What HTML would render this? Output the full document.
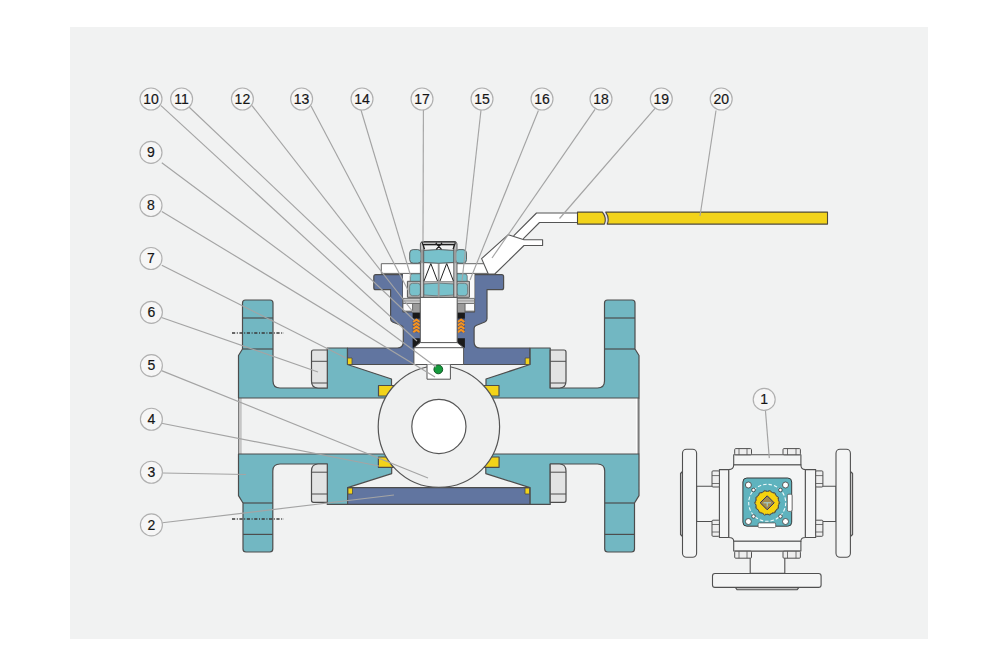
<!DOCTYPE html>
<html><head><meta charset="utf-8">
<style>
html,body{margin:0;padding:0;background:#fff;width:1000px;height:648px;overflow:hidden}
svg{display:block}
text{font-family:"Liberation Sans",sans-serif;}
</style></head><body>
<svg width="1000" height="648" viewBox="0 0 1000 648">
<rect x="0" y="0" width="1000" height="648" fill="#ffffff"/>
<rect x="70" y="27" width="858" height="612" fill="#f1f2f2"/>

<!-- ===== MAIN BODY ===== -->
<g stroke="#4d4d4d" stroke-width="1.2" stroke-linejoin="round">
<!-- bore end faces -->
<rect x="238.8" y="398" width="2" height="56" fill="#ffffff" stroke="none"/><line x1="238.8" y1="398" x2="238.8" y2="454" stroke="#555" stroke-width="1.1"/><line x1="240.9" y1="398" x2="240.9" y2="454" stroke="#8a8a8a" stroke-width="0.8"/>
<rect x="636.6" y="398" width="2.4" height="56" fill="#c2c2c2" stroke="none"/><line x1="638.9" y1="398" x2="638.9" y2="454" stroke="#555" stroke-width="1.1"/><line x1="636.4" y1="398" x2="636.4" y2="454" stroke="#ffffff" stroke-width="1"/>

<!-- upper left teal -->
<path fill="#72b7c2" d="M245.5,300 H270 Q273,300 273,303 V381 Q273,388 280,388 H327.3 V348 H347.5 V364.5 L391.5,379 V398 H238.5 V355.5 L242.5,349 V303 Q242.5,300 245.5,300 Z"/>
<line x1="242.5" y1="318" x2="273" y2="318"/>
<line x1="242.5" y1="349" x2="273" y2="349"/>
<!-- upper right teal (mirror about 438.75) -->
<path fill="#72b7c2" d="M632,300 H607.5 Q604.5,300 604.5,303 V381 Q604.5,388 597.5,388 H550.2 V348 H530 V364.5 L486,379 V398 H639 V355.5 L635,349 V303 Q635,300 632,300 Z"/>
<line x1="604.5" y1="318" x2="635" y2="318"/>
<line x1="604.5" y1="349" x2="635" y2="349"/>

<!-- lower left teal -->
<path fill="#72b7c2" d="M238.5,454 H391.7 V473.6 L347.6,487.6 V504.4 H327.3 V464 H280 Q272.8,464 272.8,471 V549 Q272.8,552 269.8,552 H246 Q243,552 243,549 V503 L238.5,495.6 Z"/>
<line x1="243" y1="503" x2="272.8" y2="503"/>
<line x1="243" y1="534.4" x2="272.8" y2="534.4"/>
<!-- lower right teal -->
<path fill="#72b7c2" d="M639,454 H485.8 V473.6 L529.9,487.6 V504.4 H550.2 V464 H597.5 Q604.7,464 604.7,471 V549 Q604.7,552 607.7,552 H631.5 Q634.5,552 634.5,549 V503 L639,495.6 Z"/>
<line x1="604.7" y1="503" x2="634.5" y2="503"/>
<line x1="604.7" y1="534.4" x2="634.5" y2="534.4"/>

<!-- nuts -->
<g fill="#e2e3e3">
<path d="M313.5,350 H327.3 V388 H318 Q311.5,388 311.5,381 V352 Q311.5,350 313.5,350 Z"/>
<path d="M564,350 H550.2 V388 H559.5 Q566,388 566,381 V352 Q566,350 564,350 Z"/>
<path d="M318,464 H327.3 V502.3 H313.5 Q311.5,502.3 311.5,500.3 V471 Q311.5,464 318,464 Z"/>
<path d="M559.5,464 H550.2 V502.3 H564 Q566,502.3 566,500.3 V471 Q566,464 559.5,464 Z"/>
</g>
<g fill="none" stroke-width="1">
<line x1="311.5" y1="361.3" x2="327.3" y2="361.3"/><line x1="311.5" y1="383" x2="327.3" y2="383"/>
<line x1="550.2" y1="361.3" x2="566" y2="361.3"/><line x1="550.2" y1="383" x2="566" y2="383"/>
<line x1="311.5" y1="472.2" x2="327.3" y2="472.2"/><line x1="311.5" y1="494" x2="327.3" y2="494"/>
<line x1="550.2" y1="472.2" x2="566" y2="472.2"/><line x1="550.2" y1="494" x2="566" y2="494"/>
</g>

<!-- lower blue bonnet bar -->
<rect x="347.6" y="487.6" width="182.3" height="16.8" fill="#6175a0"/>
<rect x="348" y="488" width="4.5" height="6" fill="#f2d31a" stroke-width="0.8"/>
<rect x="525" y="488" width="4.5" height="6" fill="#f2d31a" stroke-width="0.8"/>

<!-- upper blue bonnet -->
<path fill="#6175a0" d="M375.8,274.6 H403 V311.8 H474.5 V274.6 H501.6 Q503.6,274.6 503.6,276.6 V287.7 Q503.6,289.7 501.6,289.7 H487 V318.8 Q487,321 484.8,322 L476.1,325.5 Q474.1,326.3 474.1,328.5 V342 Q474.1,348 480.1,348 H529.7 V364.5 H347.5 V348 H397.3 Q403.3,348 403.3,342 V328.5 Q403.3,326.3 401.3,325.5 L392.6,322 Q390.6,321 390.6,318.8 V289.7 H375.8 Q373.8,289.7 373.8,287.7 V276.6 Q373.8,274.6 375.8,274.6 Z"/>
<rect x="347.5" y="358" width="4.5" height="6.5" fill="#f2d31a" stroke-width="0.8"/>
<rect x="525.2" y="358" width="4.5" height="6.5" fill="#f2d31a" stroke-width="0.8"/>



<!-- seats -->
<path fill="#f2d31a" d="M378.5,385.5 H394 L386.5,396 H378.5 Z"/>
<path fill="#f2d31a" d="M499,385.5 H483.5 L491,396 H499 Z"/>
<path fill="#f2d31a" d="M378.4,457 H386.5 L393.5,467.3 H378.4 Z"/>
<path fill="#f2d31a" d="M499.1,457 H491 L484,467.3 H499.1 Z"/>

<!-- ball -->
<circle cx="438.9" cy="426.7" r="60.7" fill="#eff0f0" stroke="#555"/>
<circle cx="438.9" cy="426.5" r="27.1" fill="#ffffff" stroke="#555"/>

<!-- ===== STEM ASSEMBLY ===== -->
<rect x="403" y="273.4" width="71.5" height="30" fill="#fbfbfb" stroke="none"/>
<!-- washer -->
<rect x="403" y="298.4" width="71.5" height="5.1" fill="#c9caca" stroke="#6a6a6a" stroke-width="0.9"/>
<line x1="403" y1="300.9" x2="474.5" y2="300.9" stroke="#8a8a8a" stroke-width="0.7"/>
<rect x="403" y="303.5" width="9.6" height="7.6" fill="#fbfbfb" stroke="#666" stroke-width="0.8"/>
<rect x="464.9" y="303.5" width="9.6" height="7.6" fill="#fbfbfb" stroke="#666" stroke-width="0.8"/>
<rect x="412.6" y="303.5" width="7.7" height="9.3" fill="#9b9b9b" stroke="#666" stroke-width="0.8"/>
<rect x="457.2" y="303.5" width="7.7" height="9.3" fill="#9b9b9b" stroke="#666" stroke-width="0.8"/>
<rect x="412.6" y="312.8" width="7.7" height="6" fill="#1a1a1a" stroke="none"/>
<rect x="457.2" y="312.8" width="7.7" height="6" fill="#1a1a1a" stroke="none"/>
<rect x="412.6" y="318.8" width="7.7" height="13.6" fill="#4a5680" stroke="none"/>
<rect x="457.2" y="318.8" width="7.7" height="13.6" fill="#4a5680" stroke="none"/>
<g fill="none" stroke="#f7941d" stroke-width="2.1" stroke-linecap="butt">
<path d="M413.2,322 L416.5,319.6 L419.8,322"/><path d="M413.2,325.4 L416.5,323 L419.8,325.4"/><path d="M413.2,328.8 L416.5,326.4 L419.8,328.8"/><path d="M413.2,332.2 L416.5,329.8 L419.8,332.2"/>
<path d="M457.8,322 L461.1,319.6 L464.4,322"/><path d="M457.8,325.4 L461.1,323 L464.4,325.4"/><path d="M457.8,328.8 L461.1,326.4 L464.4,328.8"/><path d="M457.8,332.2 L461.1,329.8 L464.4,332.2"/>
</g>
<polygon points="412.6,338.3 420.3,338.3 420.3,342.6 413.9,347.7 412.6,347.7" fill="#1a1a1a" stroke="none"/>
<polygon points="464.9,338.3 457.2,338.3 457.2,342.6 463.6,347.7 464.9,347.7" fill="#1a1a1a" stroke="none"/>
<!-- stem shaft -->
<rect x="420.3" y="297.3" width="36.9" height="46" fill="#ffffff" stroke="#555" stroke-width="1"/>
<polygon points="413.9,347.7 420.3,342.6 457.2,342.6 463.6,347.7 463.6,364.5 413.9,364.5" fill="#ffffff" stroke="#555" stroke-width="1"/>
<line x1="413.9" y1="347.7" x2="463.6" y2="347.7" stroke="#555" stroke-width="1"/>
<path d="M427,364.5 V379.2 H450.4 V364.5" fill="#ffffff" stroke="#555" stroke-width="1"/>
<circle cx="438.3" cy="369.4" r="4.4" fill="#159a3c" stroke="#0b4d1e" stroke-width="0.9"/>

<!-- handle plate -->
<rect x="381.3" y="263.7" width="106.5" height="9.7" fill="#ffffff" stroke="#666" stroke-width="1"/>
<!-- lower nut -->
<rect x="407.4" y="281.3" width="62" height="16" fill="#b9baba" stroke="#555" stroke-width="1"/>
<rect x="409.6" y="283.3" width="11" height="12.4" rx="3" fill="#78c1cb" stroke="#666" stroke-width="0.7"/>
<rect x="456.6" y="283.3" width="11" height="12.4" rx="3" fill="#78c1cb" stroke="#666" stroke-width="0.7"/>
<path d="M423.7,284 Q438.7,282.2 453.8,284 V295 Q438.7,296.8 423.7,295 Z" fill="#78c1cb" stroke="#666" stroke-width="0.7"/>
<!-- teal pieces below handle plate -->
<path d="M420.4,273.8 H412.7 Q410.2,273.8 410.2,276.3 V281.3 H420.4" fill="#78c1cb" stroke="#666" stroke-width="0.8"/>
<path d="M457,273.8 H464.7 Q467.2,273.8 467.2,276.3 V281.3 H457" fill="#78c1cb" stroke="#666" stroke-width="0.8"/>
<!-- stem top gray bars -->
<rect x="423.7" y="263.2" width="30.1" height="18.1" fill="#ffffff" stroke="none"/>
<path d="M420.4,297.3 V244 Q420.4,242 422.4,242 H455 Q457,242 457,244 V297.3 H453.8 V245 H423.7 V297.3 Z" fill="#c4c4c4" stroke="#555" stroke-width="0.9"/>
<line x1="438.7" y1="263.2" x2="438.7" y2="297.3" stroke="#9a9a9a" stroke-width="1.8"/>
<!-- W lines -->
<path d="M424,281 L430.8,263.5 L437.5,281 M440,281 L446.7,263.5 L453.4,281" fill="none" stroke="#222" stroke-width="1"/>
<!-- top nut -->
<rect x="409.7" y="249.6" width="11.5" height="13.6" rx="3.5" fill="#78c1cb" stroke="#555" stroke-width="0.9"/>
<rect x="455.5" y="249.6" width="11" height="13.6" rx="3.5" fill="#78c1cb" stroke="#555" stroke-width="0.9"/>
<path d="M423.7,250.4 Q438.7,248.6 453.8,250.4 V262.4 Q438.7,264.2 423.7,262.4 Z" fill="#78c1cb" stroke="#555" stroke-width="0.9"/>
<line x1="422" y1="249.6" x2="422" y2="263.2" stroke="#999" stroke-width="2.4"/>
<line x1="455.3" y1="249.6" x2="455.3" y2="263.2" stroke="#999" stroke-width="2.4"/>
<rect x="423" y="242.4" width="31.5" height="1.6" fill="#f4f4f4" stroke="none"/><path d="M421.5,242.3 Q422,241.8 423,241.8 H454.5 Q455.7,241.8 456,242.3 M422.5,244.4 H455 M422.3,243 L424.6,249.3 M455.3,243 L453,249.3 M435.8,243 L441.5,249.4 M442,243 L436.2,249.4" fill="none" stroke="#1e1e1e" stroke-width="1.15"/>

<!-- ===== HANDLE ===== -->
<path d="M513,236.8 L536.5,213 H578 V222.5 H539.5 L523.5,239.5 Z" fill="#ffffff" stroke="none"/><path d="M513.6,235.8 L536.5,213 H578 M578,222.5 H539.5 L523.2,238.8" fill="none" stroke="#555" stroke-width="1.1"/>
<path d="M481.6,258.6 L508.3,234.7 L524,239.8 H542.6 V245.5 H524 L494.8,274 H488.3 Z" fill="#ffffff" stroke="#555" stroke-width="1.1"/>
<path d="M605.7,212.1 Q609.5,217 607.2,224.1 L604.4,224.1 Q607,218 602.4,212.1 Z" fill="#e4e0f4" stroke="none"/>
<path d="M577.5,212.1 H602.4 Q607,218 604.4,224.1 H577.5 Z" fill="#f2d31a" stroke="#4f4a3a" stroke-width="1.1"/>
<path d="M827.5,212.1 H605.7 Q609.8,218 607.2,224.1 H827.5 Z" fill="#f2d31a" stroke="#4f4a3a" stroke-width="1.1"/>
</g>


<!-- ===== DASH-DOT ===== -->
<g stroke="#3a3a3a" stroke-width="1.3" stroke-dasharray="3.2,1.6,1,1.6">
<line x1="232" y1="333" x2="284" y2="333"/>
<line x1="232" y1="519" x2="284" y2="519"/>
</g>
<!-- ===== RIGHT VIEW ===== -->
<g stroke="#505050" stroke-width="1.1" fill="#f4f5f5" stroke-linejoin="round">
<path d="M682.5,471.5 L680.5,473.5 V534.5 L682.5,536.5 Z" fill="#c8c8c8"/>
<path d="M850.4,471.5 L852.6,473.5 V534.5 L850.4,536.5 Z" fill="#c8c8c8"/>
<path d="M735.4,587.4 L737,589.8 H797 L799,587.4 Z" fill="#c0c0c0"/>
<rect x="696.6" y="486.3" width="23" height="35.2"/>
<rect x="815.5" y="486.3" width="20.5" height="35.2"/>
<rect x="750.2" y="551" width="34.6" height="22.3"/>
<rect x="682.5" y="449.3" width="14.1" height="108" rx="4"/>
<rect x="836" y="449.3" width="14.4" height="108" rx="4"/>
<rect x="712.5" y="573.5" width="108.6" height="13.9" rx="2.5"/>
<rect x="719.4" y="469.6" width="9.4" height="67.9"/>
<rect x="805.3" y="469.6" width="10.4" height="67.9"/>
<path d="M733.7,464.7 H800.9 Q800.9,469.6 805.3,469.6 V537.5 Q800.9,537.5 800.9,541.2 H733.7 Q733.7,537.5 728.8,537.5 V469.6 Q733.7,469.6 733.7,464.7 Z"/>
<rect x="733.7" y="454.8" width="67.2" height="9.9"/>
<rect x="733.7" y="541.2" width="67.2" height="9.8"/>
<g fill="#eeeeee" stroke-width="1">
<rect x="734.7" y="448.6" width="16.8" height="6.2" rx="1"/><rect x="783" y="448.6" width="17.4" height="6.2" rx="1"/>
<rect x="734.7" y="551.2" width="16.8" height="7" rx="1"/><rect x="783" y="551.2" width="17.4" height="7" rx="1"/>
<rect x="712" y="470.9" width="7.4" height="16.1" rx="1"/><rect x="712" y="520.2" width="7.4" height="16.1" rx="1"/>
<rect x="815.7" y="470.9" width="7.2" height="16.1" rx="1"/><rect x="815.7" y="520.2" width="7.2" height="16.1" rx="1"/>
</g>
<g fill="none" stroke-width="0.8">
<line x1="739" y1="448.6" x2="739" y2="454.8"/><line x1="747" y1="448.6" x2="747" y2="454.8"/>
<line x1="787.5" y1="448.6" x2="787.5" y2="454.8"/><line x1="796" y1="448.6" x2="796" y2="454.8"/>
<line x1="739" y1="551.2" x2="739" y2="558.2"/><line x1="747" y1="551.2" x2="747" y2="558.2"/>
<line x1="787.5" y1="551.2" x2="787.5" y2="558.2"/><line x1="796" y1="551.2" x2="796" y2="558.2"/>
<line x1="712" y1="475.6" x2="719.4" y2="475.6"/><line x1="712" y1="483.5" x2="719.4" y2="483.5"/>
<line x1="712" y1="524.5" x2="719.4" y2="524.5"/><line x1="712" y1="532" x2="719.4" y2="532"/>
<line x1="815.7" y1="475.6" x2="822.9" y2="475.6"/><line x1="815.7" y1="483.5" x2="822.9" y2="483.5"/>
<line x1="815.7" y1="524.5" x2="822.9" y2="524.5"/><line x1="815.7" y1="532" x2="822.9" y2="532"/>
</g>
<!-- actuator pad -->
<rect x="742.9" y="478" width="48.8" height="48.2" rx="4" fill="#5fb3be" stroke="#3a3a3a" stroke-width="1"/>
<rect x="787.3" y="494.2" width="4.8" height="17.2" rx="1.5" fill="#ffffff" stroke="#555" stroke-width="0.8"/>
<rect x="758.1" y="522.9" width="17.6" height="4.7" rx="1.2" fill="#ffffff" stroke="#555" stroke-width="0.8"/>
<circle cx="767.2" cy="502.8" r="18.5" fill="none" stroke="#f0fafa" stroke-width="1.1" stroke-dasharray="3.5,2"/>
<g fill="#ffffff" stroke="#3a3a3a" stroke-width="0.8">
<circle cx="748.4" cy="485" r="3"/><circle cx="785.5" cy="485" r="3"/><circle cx="748.4" cy="521.5" r="3"/><circle cx="785.5" cy="521.5" r="3"/>
<circle cx="753.5" cy="490" r="1.8"/><circle cx="780.4" cy="490" r="1.8"/><circle cx="753.5" cy="516.4" r="1.8"/><circle cx="780.4" cy="516.4" r="1.8"/>
</g>
<polygon points="779.80,502.80 778.31,505.34 778.55,508.27 776.11,509.91 775.06,512.65 772.15,513.07 770.00,515.08 767.20,514.20 764.40,515.08 762.25,513.07 759.34,512.65 758.29,509.91 755.85,508.27 756.09,505.34 754.60,502.80 756.09,500.26 755.85,497.33 758.29,495.69 759.34,492.95 762.25,492.53 764.40,490.52 767.20,491.40 770.00,490.52 772.15,492.53 775.06,492.95 776.11,495.69 778.55,497.33 778.31,500.26" fill="#f5d20f" stroke="#3a3a3a" stroke-width="0.8"/>
<circle cx="767.2" cy="502.8" r="11.6" fill="none" stroke="#4a4660" stroke-width="0.9" stroke-dasharray="1.2,1.2"/>
<polygon points="767.2,495.8 774.2,502.8 767.2,509.8 760.2,502.8" fill="#a38a4e" stroke="#2a2f66" stroke-width="1"/>
<path d="M763.5,502.8 H771 M767.2,502.8 V506.5" stroke="#a8d8e0" stroke-width="1" fill="none"/>
</g>

<!-- ===== LEADERS ===== -->
<g stroke="#a4a4a4" stroke-width="1.15" fill="none">
<line x1="161" y1="105.6" x2="417" y2="341"/>
<line x1="189" y1="107" x2="414" y2="320"/>
<line x1="252" y1="105.6" x2="413" y2="312"/>
<line x1="311" y1="106" x2="408" y2="290"/>
<line x1="360.4" y1="108" x2="411" y2="277"/>
<line x1="423.4" y1="110" x2="423" y2="242"/>
<line x1="481" y1="110" x2="462" y2="281"/>
<line x1="538.4" y1="110.5" x2="470" y2="280"/>
<line x1="595" y1="109.4" x2="492" y2="258"/>
<line x1="655" y1="108.4" x2="559.5" y2="218.5"/>
<line x1="716" y1="110.5" x2="700" y2="216"/>
<line x1="161.8" y1="162.8" x2="436" y2="367"/>
<line x1="161.8" y1="211.4" x2="435" y2="377"/>
<line x1="161.8" y1="265.2" x2="346" y2="358"/>
<line x1="161.5" y1="317.5" x2="318" y2="372"/>
<line x1="161.5" y1="370.6" x2="428" y2="478"/>
<line x1="161.5" y1="423.2" x2="379" y2="466"/>
<line x1="162.4" y1="473" x2="246" y2="474.5"/>
<line x1="162.4" y1="522.8" x2="394" y2="495"/>
<line x1="765.3" y1="408.9" x2="769.3" y2="458.1"/>
</g>
<!-- ===== LABELS ===== -->
<g fill="#f6f6f6" stroke="#b0b0b0" stroke-width="1.15">
<circle cx="151" cy="99" r="11"/><text stroke="#151515" fill="#151515" font-size="14" text-anchor="middle" stroke-width="0.18" x="151" y="103.6">10</text>
<circle cx="181.6" cy="99" r="11"/><text stroke="#151515" fill="#151515" font-size="14" text-anchor="middle" stroke-width="0.18" x="181.6" y="103.6">11</text>
<circle cx="242.4" cy="99" r="11"/><text stroke="#151515" fill="#151515" font-size="14" text-anchor="middle" stroke-width="0.18" x="242.4" y="103.6">12</text>
<circle cx="301.6" cy="99" r="11"/><text stroke="#151515" fill="#151515" font-size="14" text-anchor="middle" stroke-width="0.18" x="301.6" y="103.6">13</text>
<circle cx="362" cy="99" r="11"/><text stroke="#151515" fill="#151515" font-size="14" text-anchor="middle" stroke-width="0.18" x="362" y="103.6">14</text>
<circle cx="422" cy="99" r="11"/><text stroke="#151515" fill="#151515" font-size="14" text-anchor="middle" stroke-width="0.18" x="422" y="103.6">17</text>
<circle cx="482" cy="99" r="11"/><text stroke="#151515" fill="#151515" font-size="14" text-anchor="middle" stroke-width="0.18" x="482" y="103.6">15</text>
<circle cx="542" cy="99" r="11"/><text stroke="#151515" fill="#151515" font-size="14" text-anchor="middle" stroke-width="0.18" x="542" y="103.6">16</text>
<circle cx="601" cy="99" r="11"/><text stroke="#151515" fill="#151515" font-size="14" text-anchor="middle" stroke-width="0.18" x="601" y="103.6">18</text>
<circle cx="661.3" cy="99" r="11"/><text stroke="#151515" fill="#151515" font-size="14" text-anchor="middle" stroke-width="0.18" x="661.3" y="103.6">19</text>
<circle cx="721.2" cy="99" r="11"/><text stroke="#151515" fill="#151515" font-size="14" text-anchor="middle" stroke-width="0.18" x="721.2" y="103.6">20</text>
<circle cx="151" cy="152.4" r="11"/><text stroke="#151515" fill="#151515" font-size="14" text-anchor="middle" stroke-width="0.18" x="151" y="157.0">9</text>
<circle cx="151" cy="205.5" r="11"/><text stroke="#151515" fill="#151515" font-size="14" text-anchor="middle" stroke-width="0.18" x="151" y="210.1">8</text>
<circle cx="151" cy="258.5" r="11"/><text stroke="#151515" fill="#151515" font-size="14" text-anchor="middle" stroke-width="0.18" x="151" y="263.1">7</text>
<circle cx="151.4" cy="312.3" r="11"/><text stroke="#151515" fill="#151515" font-size="14" text-anchor="middle" stroke-width="0.18" x="151.4" y="316.9">6</text>
<circle cx="151.4" cy="365.6" r="11"/><text stroke="#151515" fill="#151515" font-size="14" text-anchor="middle" stroke-width="0.18" x="151.4" y="370.2">5</text>
<circle cx="151.4" cy="419.2" r="11"/><text stroke="#151515" fill="#151515" font-size="14" text-anchor="middle" stroke-width="0.18" x="151.4" y="423.8">4</text>
<circle cx="151.4" cy="472.2" r="11"/><text stroke="#151515" fill="#151515" font-size="14" text-anchor="middle" stroke-width="0.18" x="151.4" y="476.8">3</text>
<circle cx="151.4" cy="524.9" r="11"/><text stroke="#151515" fill="#151515" font-size="14" text-anchor="middle" stroke-width="0.18" x="151.4" y="529.5">2</text>
<circle cx="764.2" cy="399.4" r="11"/><text stroke="#151515" fill="#151515" font-size="14" text-anchor="middle" stroke-width="0.18" x="764.2" y="404.0">1</text>
</g>
</svg>
</body></html>
